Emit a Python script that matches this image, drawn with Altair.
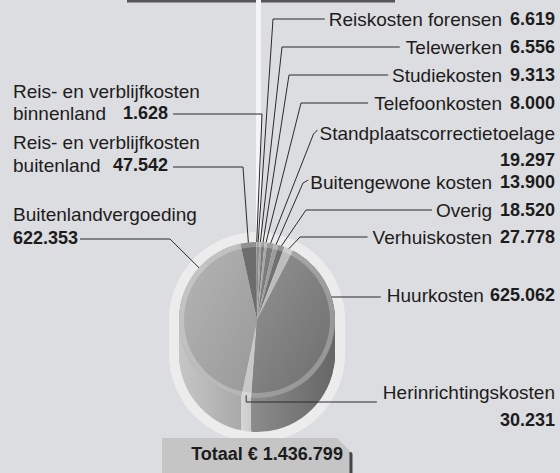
import math
import altair as alt
import pandas as pd

# ---------------- data ----------------
categories = [
    "Reiskosten forensen", "Telewerken", "Studiekosten", "Telefoonkosten",
    "Standplaatscorrectietoelage", "Buitengewone kosten", "Overig", "Verhuiskosten",
    "Huurkosten", "Herinrichtingskosten", "Buitenlandvergoeding",
    "Reis- en verblijfkosten buitenland", "Reis- en verblijfkosten binnenland",
]
values = [6619, 6556, 9313, 8000, 19297, 13900, 18520, 27778,
          625062, 30231, 622353, 47542, 1628]
total_label = "Totaal € 1.436.799"

# ---------------- styling / layout ----------------
top_colors = ["#8b8b8b", "#a4a4a4", "#7a7a7a", "#a9a9a9", "#7c7c7c", "#9d9d9d",
              "#707070", "#bdbdbd", "#808080", "#c8c8c8", "#a8a8a8", "#6d6d6d", "#9a9a9a"]
BG = "#dcdde0"
INK = "#1c1c1c"
FONT = "Liberation Sans"
FS = 19
NFS = 18
CX, CY, R = 257, 320, 78
DEPTH = 34
HALO_R = 88
RIGHT_X = 555

total = sum(values)

# approximate advance widths (em) of the regular font, used to place leader lines
CW = {c: 0.556 for c in "abdeghnopqu0123456789"}
CW.update({"c": 0.5, "k": 0.5, "s": 0.5, "v": 0.5, "x": 0.5, "y": 0.5, "z": 0.5,
           "f": 0.278, "t": 0.278, "r": 0.333, "i": 0.222, "j": 0.222, "l": 0.222,
           "m": 0.833, "w": 0.722, " ": 0.278, "-": 0.333, ".": 0.278,
           "B": 0.667, "H": 0.722, "O": 0.778, "R": 0.722, "S": 0.667, "T": 0.611, "V": 0.667})


def text_w(s, size=FS):
    return size * sum(CW.get(c, 0.556) for c in s)


def nl(v):
    return f"{v:,}".replace(",", ".")


starts, ends, acc = [], [], 0
for v in values:
    starts.append(acc)
    acc += v
    ends.append(acc)
mid_ang = [math.pi * (s + e) / total for s, e in zip(starts, ends)]


def pie_pt(a, r=R):
    return (CX + r * math.sin(a), CY - r * math.cos(a))


def num_w(txt):
    d = sum(c.isdigit() for c in txt)
    p = txt.count(".")
    return NFS * (0.556 * d + 0.278 * p)


def grad(c0, c1, x2=1, y2=0):
    return alt.LinearGradient(
        gradient="linear", x1=0, y1=0, x2=x2, y2=y2,
        stops=[alt.GradientStop(color=c0, offset=0), alt.GradientStop(color=c1, offset=1)])


# ---------------- slices ----------------
slices = pd.DataFrame({"name": categories, "start": starts, "end": ends})
theta_scale = alt.Scale(domain=[0, total], range=[0, 2 * math.pi])
X = lambda f: alt.X(f, scale=None, axis=None)
Y = lambda f: alt.Y(f, scale=None, axis=None)


def arc_enc(ch):
    return ch.encode(x=X("cx:Q"), y=Y("cy:Q"),
                     theta=alt.Theta("start:Q", scale=theta_scale), theta2="end:Q")


halo_df = pd.DataFrame([{"start": 0, "end": total, "cx": CX, "cy": CY + k}
                        for k in range(DEPTH, -1, -2)])
halo = arc_enc(alt.Chart(halo_df).mark_arc(outerRadius=HALO_R, color="#ececec"))

side_style = {
    "Buitenlandvergoeding": grad("#c6c6c6", "#a2a2a2"),
    "Herinrichtingskosten": grad("#d6d6d6", "#c4c4c4"),
    "Huurkosten": grad("#8c8c8c", "#666666"),
}
side_layers = []
for n, fill in side_style.items():
    i = categories.index(n)
    df = pd.DataFrame([{"name": n, "start": starts[i], "end": ends[i], "cx": CX, "cy": CY + k}
                       for k in range(DEPTH, 0, -1)])
    side_layers.append(arc_enc(alt.Chart(df).mark_arc(outerRadius=R, fill=fill, strokeWidth=0)))

top_df = slices.assign(cx=CX, cy=CY)
top = arc_enc(alt.Chart(top_df).mark_arc(outerRadius=R)).encode(
    color=alt.Color("name:N", scale=alt.Scale(domain=categories, range=top_colors), legend=None))

top_grad_layers = []
for n, fill in {"Buitenlandvergoeding": grad("#b6b6b6", "#989898", 1, 1),
                "Huurkosten": grad("#939393", "#6c6c6c", 1, 1)}.items():
    top_grad_layers.append(arc_enc(alt.Chart(top_df).transform_filter(
        alt.datum.name == n).mark_arc(outerRadius=R, fill=fill)))

rim_df = pd.DataFrame([{"start": 0, "end": total, "cx": CX, "cy": CY}])
rim = arc_enc(alt.Chart(rim_df).mark_arc(innerRadius=R - 5, outerRadius=R,
                                         color="#ffffff", opacity=0.25))

# ---------------- labels & leader lines ----------------
idx = {n: i for i, n in enumerate(categories)}
texts = []
lines = []

right_single = [  # name, label y, leader corner x
    ("Reiskosten forensen", 20, 273),
    ("Telewerken", 48, 282),
    ("Studiekosten", 76, 289),
    ("Telefoonkosten", 104, 301),
    ("Buitengewone kosten", 183, 303),
    ("Overig", 211, 306),
    ("Verhuiskosten", 238, 300),
]
for name, y, xc in right_single:
    num = nl(values[idx[name]])
    name_right = RIGHT_X - num_w(num) - 8
    texts.append((RIGHT_X, y, num, "rnum"))
    texts.append((name_right, y, name, "rname"))
    x0 = name_right - text_w(name) - 4
    if name == "Buitengewone kosten":
        lines.append([(x0 + 2, y - 3), (xc, y), pie_pt(mid_ang[idx[name]])])
    else:
        lines.append([(x0, y - 1), (xc, y - 1), pie_pt(mid_ang[idx[name]])])

n = "Standplaatscorrectietoelage"
texts.append((RIGHT_X, 134, n, "rname"))
texts.append((RIGHT_X, 161, nl(values[idx[n]]), "rnum"))
x0 = RIGHT_X - text_w(n) - 2
lines.append([(x0, 130), (x0 - 4, 134), pie_pt(mid_ang[idx[n]])])

n = "Huurkosten"
num = nl(values[idx[n]])
texts.append((RIGHT_X, 296, num, "rnum"))
texts.append((RIGHT_X - num_w(num) - 6, 296, n, "rname"))
a_h = math.acos((CY - 297) / R)
lines.append([(RIGHT_X - num_w(num) - 6 - text_w(n) - 6, 297), pie_pt(a_h)])

n = "Herinrichtingskosten"
texts.append((RIGHT_X, 393, n, "rname"))
texts.append((RIGHT_X, 421, nl(values[idx[n]]), "rnum"))
px, py = pie_pt(mid_ang[idx[n]])
lines.append([(RIGHT_X - text_w(n) - 6, 402), (px, 402), (px, py - 2)])

n = "Reis- en verblijfkosten binnenland"
texts.append((13, 92, "Reis- en verblijfkosten", "lname"))
texts.append((13, 114, "binnenland", "lname"))
texts.append((168, 114, nl(values[idx[n]]), "rnum"))
lines.append([(173, 114), (262, 114), pie_pt(mid_ang[idx[n]])])

n = "Reis- en verblijfkosten buitenland"
texts.append((13, 143, "Reis- en verblijfkosten", "lname"))
texts.append((13, 166, "buitenland", "lname"))
texts.append((168, 166, nl(values[idx[n]]), "rnum"))
lines.append([(173, 167), (243, 167), pie_pt(mid_ang[idx[n]])])

n = "Buitenlandvergoeding"
texts.append((13, 215, n, "lname"))
texts.append((13, 239, nl(values[idx[n]]), "lnum"))
lines.append([(80, 239), (170, 239), pie_pt(math.radians(312))])

text_df = pd.DataFrame(texts, columns=["x", "y", "text", "style"])
line_df = pd.DataFrame([{"id": i, "k": k, "x": p[0], "y": p[1]}
                        for i, pts in enumerate(lines) for k, p in enumerate(pts)])

leaders = alt.Chart(line_df).mark_line(color="#2b2b2b", strokeWidth=1).encode(
    x=X("x:Q"), y=Y("y:Q"), detail="id:N", order="k:Q")


def text_layer(style, align, size, weight):
    return alt.Chart(text_df).transform_filter(alt.datum.style == style).mark_text(
        align=align, baseline="middle", font=FONT, fontSize=size, fontWeight=weight, color=INK
    ).encode(x=X("x:Q"), y=Y("y:Q"), text="text:N")


t_rname = text_layer("rname", "right", FS, "normal")
t_lname = text_layer("lname", "left", FS, "normal")
t_rnum = text_layer("rnum", "right", NFS, "bold")
t_lnum = text_layer("lnum", "left", NFS, "bold")

# ---------------- decorations ----------------
one = pd.DataFrame({"a": [0]})
top_bar = alt.Chart(one).mark_rule(color="#555555", strokeWidth=3).encode(
    x=alt.value(127), x2=alt.value(395), y=alt.value(1))
band = alt.Chart(one).mark_rule(color="#f5f5f5", strokeWidth=5).encode(
    x=alt.value(258.5), y=alt.value(0), y2=alt.value(240))

box = alt.Chart(one).mark_rect(color="#c5c5c5").encode(
    x=alt.value(162), x2=alt.value(352), y=alt.value(438), y2=alt.value(476))
box_shadow = alt.Chart(one).mark_rule(color="#444444", strokeWidth=3).encode(
    x=alt.value(351), y=alt.value(452), y2=alt.value(476))
bevel = alt.Chart(one).mark_point(
    shape="M -1 -1 L 1 -1 L 1 1 Z", filled=True, color=BG, opacity=1, size=256, strokeWidth=0
).encode(x=alt.value(345), y=alt.value(446))
box_text = alt.Chart(pd.DataFrame({"t": [total_label]})).mark_text(
    align="center", baseline="middle", font=FONT, fontSize=18, fontWeight="bold", color=INK
).encode(x=alt.value(267), y=alt.value(455), text="t:N")

chart = alt.layer(
    top_bar, band, halo, *side_layers, top, *top_grad_layers, rim, leaders,
    t_rname, t_lname, t_rnum, t_lnum, box, box_shadow, bevel, box_text
).properties(
    width=560, height=473, background=BG, padding=0,
    autosize=alt.AutoSizeParams(type="none"),
).configure_view(stroke=None)

chart.save("out.html", embed_options={"renderer": "svg", "actions": False})
